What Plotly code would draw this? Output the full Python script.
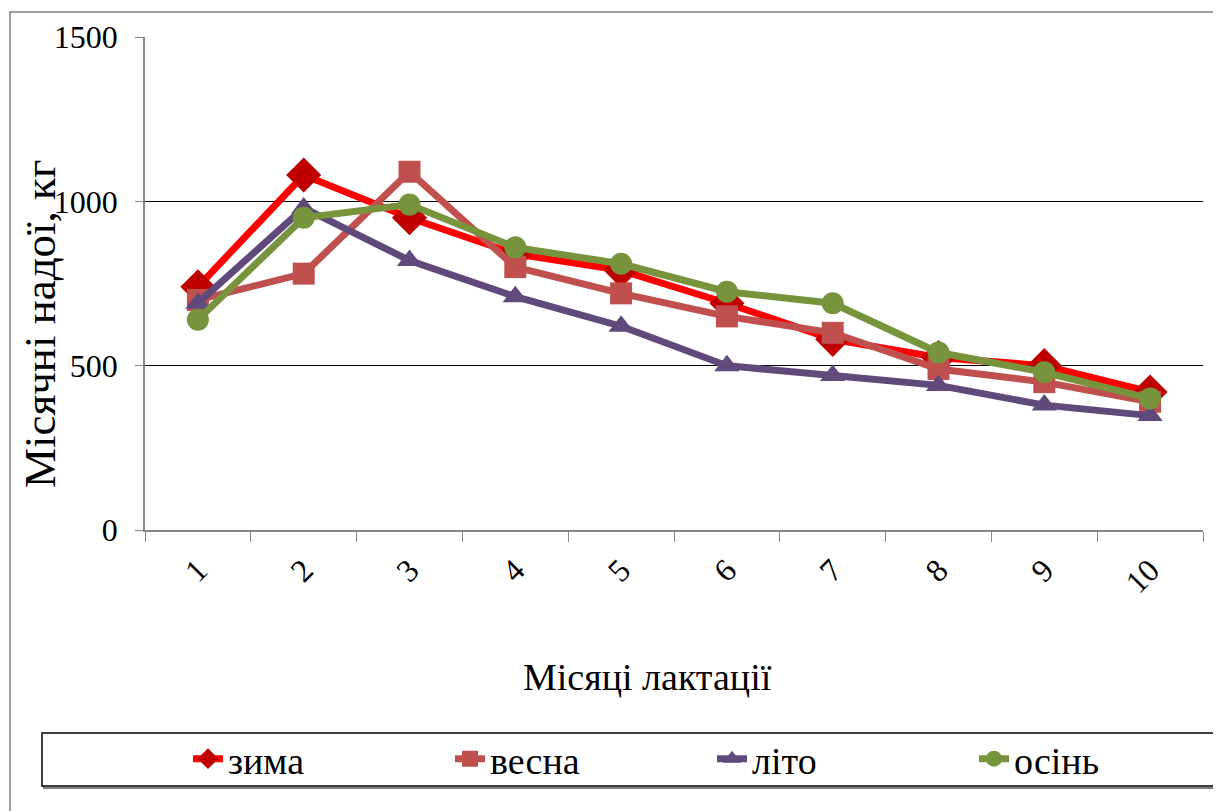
import plotly.graph_objects as go

months = [1, 2, 3, 4, 5, 6, 7, 8, 9, 10]
month_labels = ["1", "2", "3", "4", "5", "6", "7", "8", "9", "10"]
zyma = [740, 1080, 950, 840, 790, 690, 580, 525, 500, 420]
vesna = [700, 780, 1090, 800, 720, 650, 600, 490, 450, 390]
lito = [690, 980, 820, 710, 620, 500, 470, 440, 380, 348]
osin = [640, 950, 990, 860, 810, 725, 690, 540, 480, 400]
y_ticks = [0, 500, 1000, 1500]

series = [
    ("зима", zyma, "#FF0000", "#C00000", "diamond", 27),
    ("весна", vesna, "#C0504D", "#C0504D", "square", 22),
    ("літо", lito, "#604A7B", "#604A7B", "triangle-up", 22),
    ("осінь", osin, "#77933C", "#77933C", "circle", 22),
]

FONT = '"Times New Roman", "Liberation Serif", serif'

fig = go.Figure()
for name, vals, lc, mc, sym, ms in series:
    fig.add_trace(go.Scatter(
        x=month_labels, y=vals, name=name, mode="lines+markers",
        line=dict(color=lc, width=7),
        marker=dict(symbol=sym, size=ms, color=mc, line=dict(width=0)),
    ))

# the page body has an 8px margin, so screen px = figure px + 8
OFF = 8
PL, PR, PT, PB = 145 - OFF, 1203 - OFF, 37 - OFF, 530 - OFF
W_PLOT = float(PR - PL)
H_PLOT = float(PB - PT)


def px_x(p):
    return (p - OFF - PL) / W_PLOT


def px_y(p):
    return (PB - (p - OFF)) / H_PLOT


fig.update_layout(
    width=1221, height=811,
    paper_bgcolor="white", plot_bgcolor="white",
    margin=dict(l=PL, r=1221 - PR, t=PT, b=811 - PB, autoexpand=False),
    font=dict(family=FONT, size=32, color="black"),
    showlegend=True,
    legend=dict(
        orientation="h", x=px_x(188), xanchor="left", y=px_y(759), yanchor="middle",
        font=dict(family=FONT, size=38, color="black"),
        bgcolor="rgba(0,0,0,0)", borderwidth=0,
        entrywidth=217, itemwidth=30,
    ),
    shapes=[
        dict(type="rect", xref="paper", yref="paper",
             x0=px_x(10), x1=px_x(1240), y0=px_y(12), y1=px_y(840),
             line=dict(color="#808080", width=1.5), fillcolor="rgba(0,0,0,0)", layer="below"),
        dict(type="rect", xref="paper", yref="paper",
             x0=px_x(44), x1=px_x(1220), y0=px_y(735), y1=px_y(788),
             line=dict(color="#808080", width=2), fillcolor="rgba(0,0,0,0)", layer="below"),
        dict(type="rect", xref="paper", yref="paper",
             x0=px_x(42), x1=px_x(1218), y0=px_y(733), y1=px_y(786),
             line=dict(color="black", width=1.5), fillcolor="white", layer="below"),
    ],
    annotations=[
        dict(text="Місяці лактації", xref="paper", yref="paper",
             x=px_x(647), y=px_y(677), xanchor="center", yanchor="middle",
             showarrow=False, font=dict(family=FONT, size=38, color="black")),
        dict(text="Місячні надої, кг", xref="paper", yref="paper",
             x=px_x(40), y=px_y(324), xanchor="center", yanchor="middle",
             textangle=-90, showarrow=False, font=dict(family=FONT, size=45, color="black")),
    ],
)

fig.update_xaxes(
    type="category", tickvals=month_labels, ticktext=month_labels,
    range=[-0.5, len(month_labels) - 0.5],
    showline=True, linecolor="#868686", linewidth=1.5,
    ticks="outside", tickson="boundaries", ticklen=10, tickcolor="#868686",
    tickangle=-45, tickfont=dict(family=FONT, size=32),
    ticklabelstandoff=7,
    showgrid=False, automargin=False,
)
fig.update_yaxes(
    range=[0, 1500], tickvals=y_ticks,
    showline=True, linecolor="#868686", linewidth=1.5,
    ticks="outside", ticklen=8, tickcolor="#868686",
    showgrid=True, gridcolor="black", gridwidth=1,
    zeroline=False, automargin=False,
    ticklabelstandoff=11,
    tickfont=dict(family=FONT, size=32),
)

fig.write_html("out.html")
